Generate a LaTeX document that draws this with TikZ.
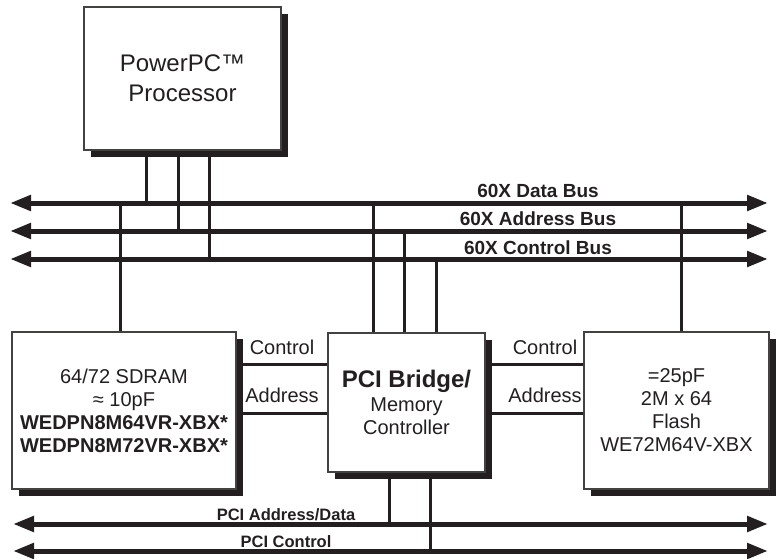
\documentclass[tikz,border=0pt]{standalone}
\usepackage{fontspec}
\setmainfont{Liberation Sans}
\usetikzlibrary{arrows.meta,shadows}
\definecolor{ink}{HTML}{231F20}
\begin{document}
\begin{tikzpicture}[x=1pt,y=-1pt,
  bus/.style={line width=5pt, draw=ink, {Triangle[length=21pt,width=15pt]}-{Triangle[length=21pt,width=15pt]}},
  wire/.style={line width=3pt, draw=ink},
  blk/.style={draw=ink!85, line width=1.2pt, fill=white, inner sep=0pt, align=center, text=ink,
    font=\fontsize{20}{23}\selectfont,
    drop shadow={shadow xshift=7pt, shadow yshift=-7pt, opacity=1, fill=ink}},
  buslabel/.style={font=\bfseries\fontsize{19}{22}\selectfont, text=ink, inner sep=0pt},
  pcilabel/.style={font=\bfseries\fontsize{16.5}{19}\selectfont, text=ink, inner sep=0pt},
  sidelabel/.style={font=\fontsize{20}{23}\selectfont, text=ink, inner sep=0pt}
]
\useasboundingbox (0,0) rectangle (776,559);

% bus end points
\coordinate (dbL) at (10,203);  \coordinate (dbR) at (768,203);
\coordinate (abL) at (10,231);  \coordinate (abR) at (768,231);
\coordinate (cbL) at (10,259);  \coordinate (cbR) at (768,259);
\coordinate (padL) at (13,524); \coordinate (padR) at (768,524);
\coordinate (pctL) at (13,551); \coordinate (pctR) at (768,551);

% tap points on buses
\coordinate (p1) at (146,203);
\coordinate (p2) at (178,231);
\coordinate (p3) at (209,259);
\coordinate (s1) at (120,203);
\coordinate (b1) at (373,203);
\coordinate (b2) at (404,231);
\coordinate (b3) at (436,259);
\coordinate (f1) at (681,203);
\coordinate (q1) at (389,524);
\coordinate (q2) at (430,551);

% blocks
\node[blk, minimum width=197pt, minimum height=143pt, font=\fontsize{24}{30}\selectfont]
  (proc) at (182.5,78.5) {PowerPC™\\Processor};
\node[blk, minimum width=224pt, minimum height=157pt]
  (sdram) at (124,410.5) {64/72 SDRAM\\≈ 10pF\\\textbf{WEDPN8M64VR-XBX*}\\\textbf{WEDPN8M72VR-XBX*}};
\node[blk, minimum width=157pt, minimum height=139pt]
  (pci) at (406.5,402.5) {{\bfseries\fontsize{24}{26}\selectfont PCI Bridge/}\\[1pt]Memory\\Controller};
\node[blk, minimum width=185pt, minimum height=157pt]
  (flash) at (676.5,410.5) {=25pF\\2M x 64\\Flash\\WE72M64V-XBX};

% processor to 60X buses
\draw[wire] (proc.south -| p1) -- (p1);
\draw[wire] (proc.south -| p2) -- (p2);
\draw[wire] (proc.south -| p3) -- (p3);

% 60X buses to devices
\draw[wire] (s1) -- (sdram.north -| s1);
\draw[wire] (b1) -- (pci.north -| b1);
\draw[wire] (b2) -- (pci.north -| b2);
\draw[wire] (b3) -- (pci.north -| b3);
\draw[wire] (f1) -- (flash.north -| f1);

% bridge to PCI buses
\draw[wire] (pci.south -| q1) -- (q1);
\draw[wire] (pci.south -| q2) -- (q2);

% control / address links
\coordinate (cl) at (0,364);
\coordinate (al) at (0,413);
\draw[wire] (sdram.east |- cl) -- (pci.west |- cl);
\draw[wire] (sdram.east |- al) -- (pci.west |- al);
\draw[wire] (pci.east |- cl) -- (flash.west |- cl);
\draw[wire] (pci.east |- al) -- (flash.west |- al);

% buses
\draw[bus] (dbL) -- (dbR);
\draw[bus] (abL) -- (abR);
\draw[bus] (cbL) -- (cbR);
\draw[bus] (padL) -- (padR);
\draw[bus] (pctL) -- (pctR);

% labels
\node[buslabel] (ldb) at (538,191) {60X Data Bus};
\node[buslabel] (lab) at (538,219) {60X Address Bus};
\node[buslabel] (lcb) at (538,248) {60X Control Bus};
\node[pcilabel] (lpad) at (286,515) {PCI Address/Data};
\node[pcilabel] (lpct) at (286,542) {PCI Control};
\node[sidelabel] (lc1) at (282,347) {Control};
\node[sidelabel] (la1) at (282,395) {Address};
\node[sidelabel] (lc2) at (545,347) {Control};
\node[sidelabel] (la2) at (545,395) {Address};
\end{tikzpicture}
\end{document}
